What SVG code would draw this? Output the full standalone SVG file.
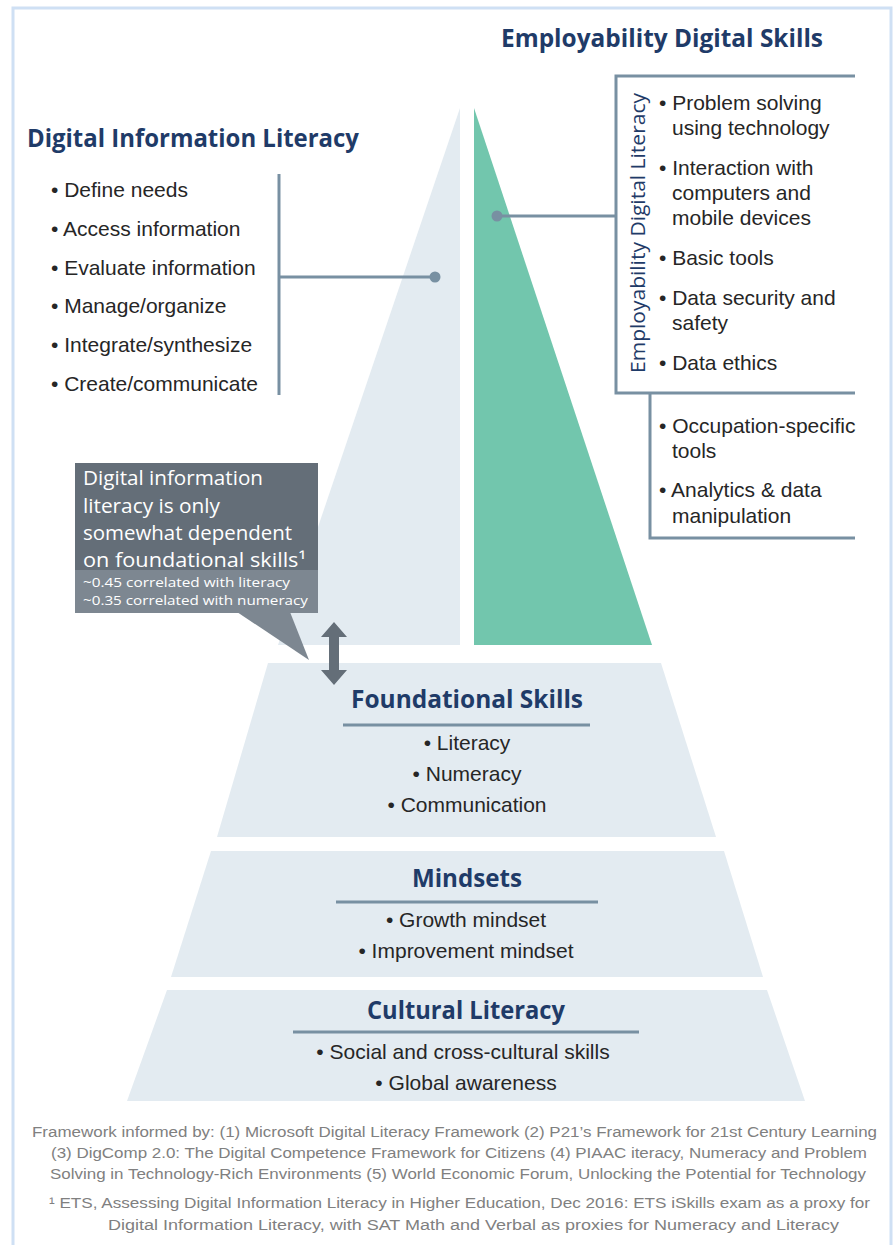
<svg xmlns="http://www.w3.org/2000/svg" width="895" height="1245" viewBox="0 0 895 1245">
<style>
.title{font-family:"Open Sans","Noto Sans",sans-serif;font-weight:700;font-size:25px;fill:#1f3b68}
.body{font-family:"Liberation Sans",Arial,sans-serif;font-size:21px;fill:#262626}
.callout{font-family:"Open Sans","Noto Sans",sans-serif;fill:#ffffff}
.foot{font-family:"Liberation Sans",Arial,sans-serif;font-size:15.5px;fill:#808080}
.conn{fill:none;stroke:#7890a2;stroke-width:3}
.layer{fill:#e3ebf1}
</style>
<rect x="13" y="8" width="878" height="1250" fill="#ffffff" stroke="#cfe0f4" stroke-width="3"/>

<g id="digital-information-literacy">
  <polygon class="layer" points="460,108 460,645 278,645"/>
  <text class="title" x="27" y="147" textLength="332" lengthAdjust="spacingAndGlyphs">Digital Information Literacy</text>
  <text class="body" x="51" y="197">• Define needs</text>
  <text class="body" x="51" y="236">• Access information</text>
  <text class="body" x="51" y="275">• Evaluate information</text>
  <text class="body" x="51" y="313">• Manage/organize</text>
  <text class="body" x="51" y="352">• Integrate/synthesize</text>
  <text class="body" x="51" y="391">• Create/communicate</text>
</g>

<g id="employability-digital-skills">
  <polygon fill="#72c6ad" points="474,108 652,645 474,645"/>
  <text class="title" x="501" y="47" textLength="322" lengthAdjust="spacingAndGlyphs">Employability Digital Skills</text>
</g>

<g id="employability-digital-literacy">
  <text font-family="'Open Sans','Noto Sans',sans-serif" font-size="20" fill="#1f3b68" transform="translate(645,233) rotate(-90)" text-anchor="middle" textLength="280" lengthAdjust="spacingAndGlyphs">Employability Digital Literacy</text>
  <text class="body" x="659" y="110">• Problem solving</text>
  <text class="body" x="672" y="135">using technology</text>
  <text class="body" x="659" y="175">• Interaction with</text>
  <text class="body" x="672" y="200">computers and</text>
  <text class="body" x="672" y="225">mobile devices</text>
  <text class="body" x="659" y="265">• Basic tools</text>
  <text class="body" x="659" y="305">• Data security and</text>
  <text class="body" x="672" y="330">safety</text>
  <text class="body" x="659" y="370">• Data ethics</text>
</g>

<g id="occupation-specific">
  <text class="body" x="659" y="433">• Occupation-specific</text>
  <text class="body" x="672" y="458">tools</text>
  <text class="body" x="659" y="497">• Analytics &amp; data</text>
  <text class="body" x="672" y="523">manipulation</text>
</g>

<g id="foundational-skills">
  <polygon class="layer" points="268,663 661,663 716,837 217,837"/>
  <text class="title" x="467" y="708" text-anchor="middle" textLength="232" lengthAdjust="spacingAndGlyphs">Foundational Skills</text>
  <line x1="343" y1="725" x2="590" y2="725" stroke="#7890a2" stroke-width="3"/>
  <text class="body" x="467" y="750" text-anchor="middle">• Literacy</text>
  <text class="body" x="467" y="781" text-anchor="middle">• Numeracy</text>
  <text class="body" x="467" y="812" text-anchor="middle">• Communication</text>
</g>

<g id="mindsets">
  <polygon class="layer" points="211,851 724,851 763,977 171,977"/>
  <text class="title" x="467" y="887" text-anchor="middle" textLength="110" lengthAdjust="spacingAndGlyphs">Mindsets</text>
  <line x1="336" y1="902" x2="598" y2="902" stroke="#7890a2" stroke-width="3"/>
  <text class="body" x="466" y="927" text-anchor="middle">• Growth mindset</text>
  <text class="body" x="466" y="958" text-anchor="middle">• Improvement mindset</text>
</g>

<g id="cultural-literacy">
  <polygon class="layer" points="167,990 767,990 805,1101 127,1101"/>
  <text class="title" x="466" y="1019" text-anchor="middle" textLength="198" lengthAdjust="spacingAndGlyphs">Cultural Literacy</text>
  <line x1="293" y1="1032" x2="639" y2="1032" stroke="#7890a2" stroke-width="3"/>
  <text class="body" x="463" y="1059" text-anchor="middle">• Social and cross-cultural skills</text>
  <text class="body" x="466" y="1090" text-anchor="middle">• Global awareness</text>
</g>

<g id="callout">
  <rect x="75" y="463" width="243" height="107" fill="#646e78"/>
  <rect x="75" y="570" width="243" height="43" fill="#7d8791"/>
  <polygon points="237,612 290,612 309,660" fill="#7d8791"/>
  <text class="callout" font-size="20" x="83" y="485" textLength="180" lengthAdjust="spacingAndGlyphs">Digital information</text>
  <text class="callout" font-size="20" x="83" y="513" textLength="137" lengthAdjust="spacingAndGlyphs">literacy is only</text>
  <text class="callout" font-size="20" x="83" y="540" textLength="209" lengthAdjust="spacingAndGlyphs">somewhat dependent</text>
  <text class="callout" font-size="20" x="83" y="567" textLength="223" lengthAdjust="spacingAndGlyphs">on foundational skills¹</text>
  <text class="callout" font-size="13.5" x="83" y="587" textLength="207" lengthAdjust="spacingAndGlyphs">~0.45 correlated with literacy</text>
  <text class="callout" font-size="13.5" x="83" y="605" textLength="225" lengthAdjust="spacingAndGlyphs">~0.35 correlated with numeracy</text>
</g>

<g id="connectors">
  <line class="conn" x1="279" y1="174" x2="279" y2="395"/>
  <line class="conn" x1="279" y1="277" x2="435" y2="277"/>
  <circle cx="435" cy="277" r="5.5" fill="#7890a2"/>
  <polyline class="conn" points="855,76 616,76 616,393 855,393"/>
  <line class="conn" x1="497" y1="216" x2="616" y2="216"/>
  <circle cx="497" cy="216" r="5.5" fill="#7890a2"/>
  <polyline class="conn" points="650,393 650,538 855,538"/>
  <polygon fill="#646e78" points="334,622 347,637 339,637 339,670 347,670 334,685 321,670 329,670 329,637 321,637"/>
</g>

<g id="footer">
  <text class="foot" x="32" y="1137" textLength="845" lengthAdjust="spacingAndGlyphs">Framework informed by: (1) Microsoft Digital Literacy Framework (2) P21’s Framework for 21st Century Learning</text>
  <text class="foot" x="51" y="1158" textLength="816" lengthAdjust="spacingAndGlyphs">(3) DigComp 2.0: The Digital Competence Framework for Citizens (4) PIAAC iteracy, Numeracy and Problem</text>
  <text class="foot" x="50" y="1179" textLength="816" lengthAdjust="spacingAndGlyphs">Solving in Technology-Rich Environments (5) World Economic Forum, Unlocking the Potential for Technology</text>
  <text class="foot" x="49" y="1208" textLength="821" lengthAdjust="spacingAndGlyphs">¹ ETS, Assessing Digital Information Literacy in Higher Education, Dec 2016: ETS iSkills exam as a proxy for</text>
  <text class="foot" x="108" y="1230" textLength="731" lengthAdjust="spacingAndGlyphs">Digital Information Literacy, with SAT Math and Verbal as proxies for Numeracy and Literacy</text>
</g>
</svg>
